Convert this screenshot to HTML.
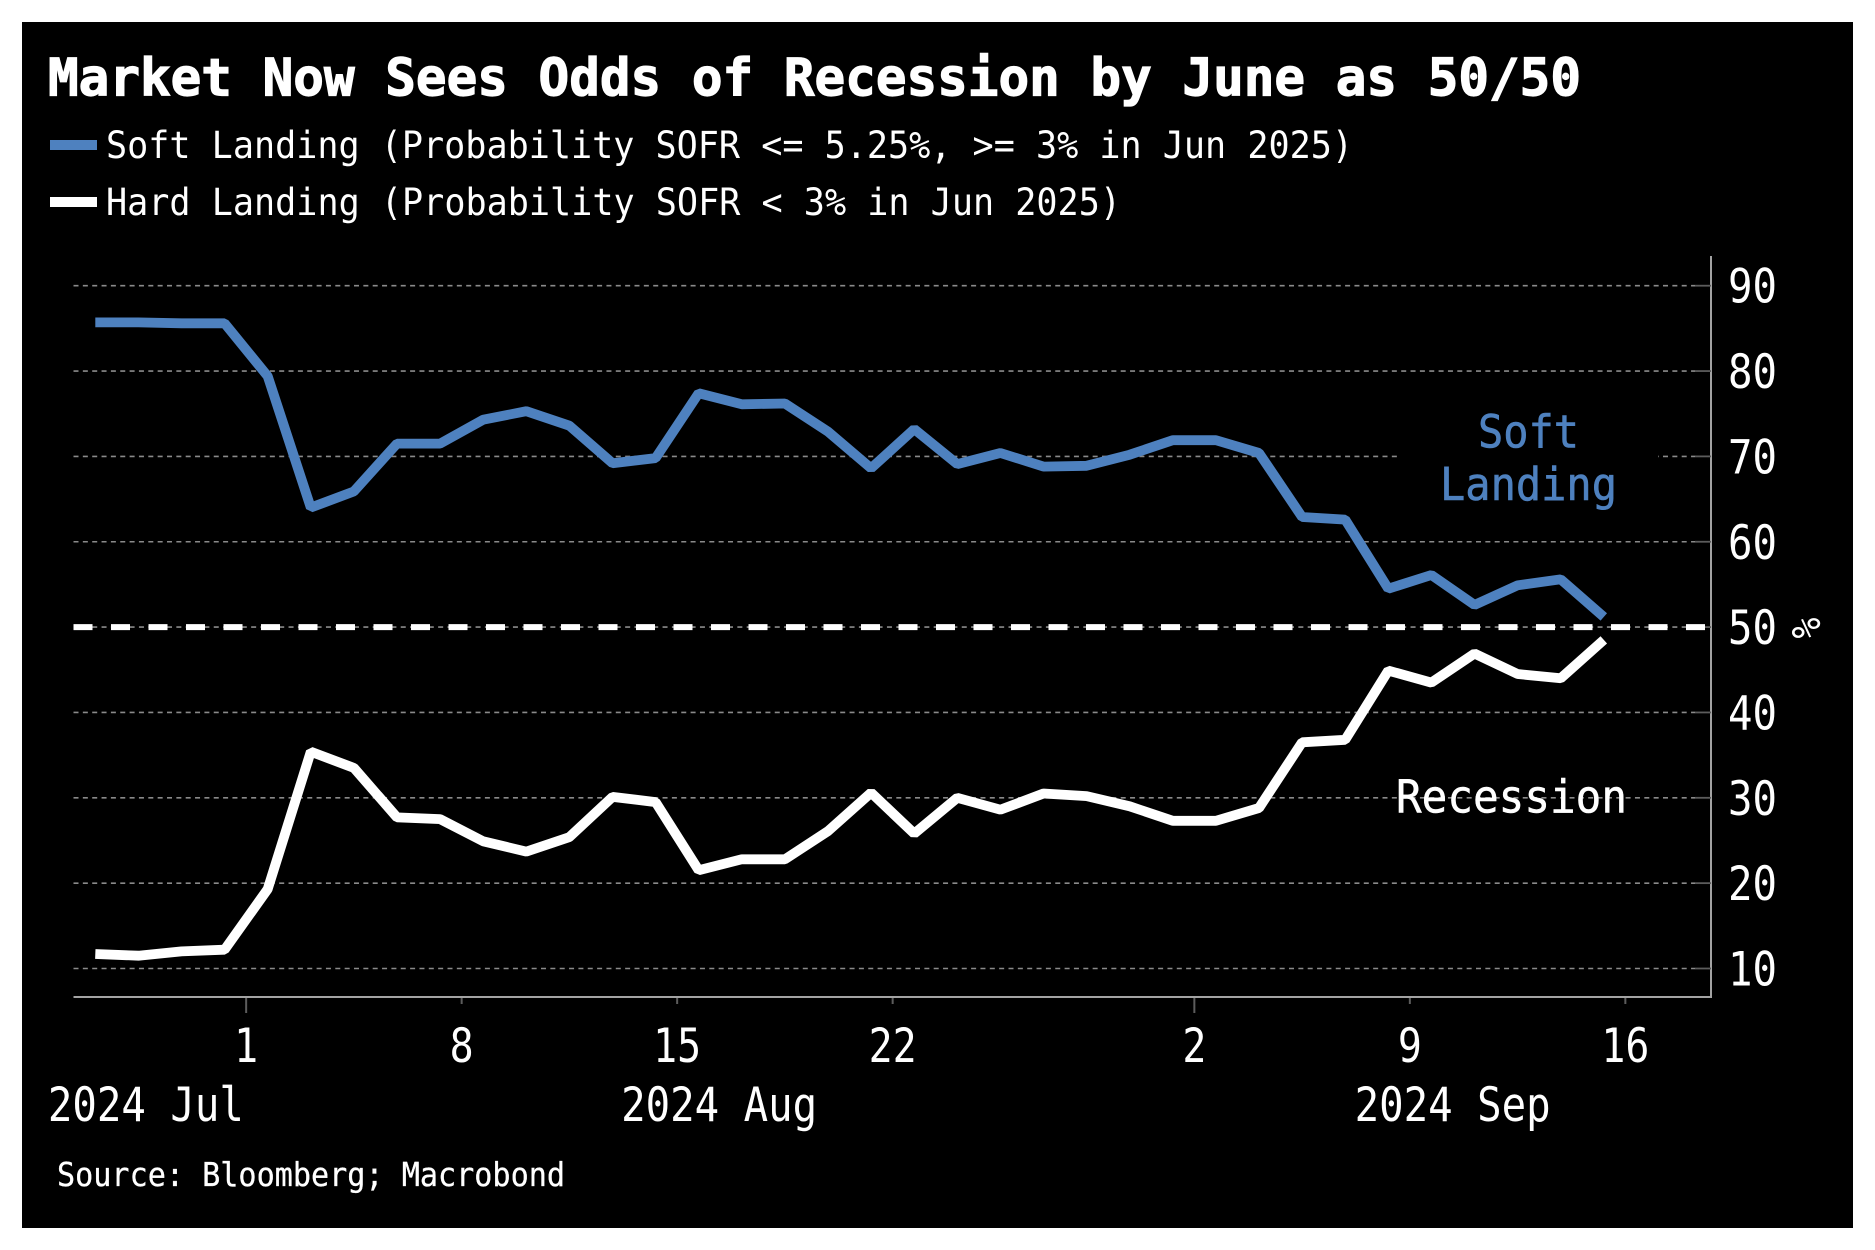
<!DOCTYPE html>
<html lang="en">
<head>
<meta charset="utf-8">
<title>Market Now Sees Odds of Recession by June as 50/50</title>
<style>
html,body{margin:0;padding:0;background:#fff;width:1875px;height:1250px;overflow:hidden}
svg{display:block}
text{font-family:"DejaVu Sans Mono","Liberation Mono",monospace;fill:#fff}
</style>
</head>
<body>
<svg id="chart" xmlns="http://www.w3.org/2000/svg" width="1875" height="1250" viewBox="0 0 1875 1250">
  <rect x="22" y="22" width="1831" height="1206" fill="#000"/>
  <text x="48" y="95.5" font-size="52" font-weight="700" stroke="#fff" stroke-width="1.2" textLength="1533" lengthAdjust="spacingAndGlyphs">Market Now Sees Odds of Recession by June as 50/50</text>

  <g>
    <rect x="50" y="140" width="47" height="10" fill="#4e81bf"/>
    <text x="106" y="158" font-size="37" textLength="1247" lengthAdjust="spacingAndGlyphs">Soft Landing (Probability SOFR &lt;= 5.25%, &gt;= 3% in Jun 2025)</text>
    <rect x="50" y="197" width="47" height="10" fill="#fff"/>
    <text x="106" y="215" font-size="37" textLength="1015" lengthAdjust="spacingAndGlyphs">Hard Landing (Probability SOFR &lt; 3% in Jun 2025)</text>
  </g>

  <g id="grid"></g>
  <rect x="1400" y="440" width="258" height="40" fill="#000"/>
  <g id="axes">
    <line x1="73.5" y1="997" x2="1712" y2="997" stroke="#a3a3a3" stroke-width="2"/>
    <line x1="1711" y1="256" x2="1711" y2="998" stroke="#a3a3a3" stroke-width="2"/>
  </g>
  <g id="x-ticks"></g>
  <g id="y-ticks"></g>
  <g id="months"></g>
  <g id="threshold"></g>
  <g id="series"></g>

  <text transform="translate(1792,628) rotate(90)" font-size="40" text-anchor="middle" textLength="21" lengthAdjust="spacingAndGlyphs">%</text>
  <text x="1478" y="447.5" font-size="45" stroke="#4e81bf" stroke-width="0.6" style="fill:#4e81bf" textLength="101" lengthAdjust="spacingAndGlyphs">Soft</text>
  <text x="1440" y="500" font-size="45" stroke="#4e81bf" stroke-width="0.6" style="fill:#4e81bf" textLength="177" lengthAdjust="spacingAndGlyphs">Landing</text>
  <text x="1396" y="812.5" font-size="45" stroke="#fff" stroke-width="0.5" textLength="231" lengthAdjust="spacingAndGlyphs">Recession</text>
  <text x="57" y="1186" font-size="33" stroke="#fff" stroke-width="0.3" textLength="508" lengthAdjust="spacingAndGlyphs">Source: Bloomberg; Macrobond</text>
</svg>
<script>
const softValues = [85.7,85.7,85.6,85.6,79.4,64.0,65.9,71.5,71.5,74.3,75.3,73.6,69.2,69.8,77.4,76.1,76.2,72.9,68.6,73.2,69.1,70.4,68.8,68.9,70.2,71.9,71.9,70.4,62.9,62.6,54.5,56.1,52.6,54.9,55.6,51.2];
const hardValues = [11.7,11.5,12.0,12.2,19.3,35.4,33.5,27.7,27.5,24.9,23.7,25.4,30.1,29.5,21.5,22.8,22.8,26.1,30.6,25.8,30.0,28.6,30.5,30.2,29.0,27.3,27.3,28.8,36.5,36.8,44.9,43.5,46.9,44.5,44.0,48.5];
const yTickValues = [10,20,30,40,50,60,70,80,90];
const thresholdValue = 50;
const xTickLabels = ["1","8","15","22","2","9","16"];
const xTickCategories = [3.5,8.5,13.5,18.5,25.5,30.5,35.5];
const xTickIsMonthStart = [true,false,false,false,true,false,false];
const monthLabels = ["2024 Jul","2024 Aug","2024 Sep"];
const monthLabelCategories = [-1.1,12.2,29.22];

const NS = "http://www.w3.org/2000/svg";
function xScale(i) { return 95.3 + i * 43.1; }
function yScale(v) { return 968.5 - (v - 10) * 8.535; }
function make(tag, parent, attrs, text) {
  const el = document.createElementNS(NS, tag);
  for (const k in attrs) el.setAttribute(k, attrs[k]);
  if (text !== undefined) el.textContent = text;
  document.getElementById(parent).appendChild(el);
  return el;
}
function linePoints(values) {
  return values.map(function (v, i) { return xScale(i).toFixed(1) + "," + yScale(v).toFixed(1); }).join(" ");
}

yTickValues.forEach(function (v) {
  const y = yScale(v);
  const grid = make("line", "grid", {x1: 73.5, y1: y, x2: 1695, y2: y, stroke: "#8a8a8a", "stroke-width": 1.6, "stroke-dasharray": "5 4.35"});
  
  
  const tick = make("line", "y-ticks", {x1: 1695, y1: y, x2: 1711, y2: y, stroke: "#5c5c5c", "stroke-width": 1.8});
  
  
  const label = make("text", "y-ticks", {x: 1728, y: y + 17, "font-size": 47, textLength: 49, lengthAdjust: "spacingAndGlyphs"}, String(v));
  
  
});

xTickLabels.forEach(function (text, k) {
  const x = xScale(xTickCategories[k]);
  const tick = make("line", "x-ticks", {x1: x, y1: 998, x2: x, y2: xTickIsMonthStart[k] ? 1013 : 1004, stroke: "#5c5c5c", "stroke-width": 2});
  
  
  const label = make("text", "x-ticks", {x: x, y: 1062, "font-size": 47, "text-anchor": "middle", textLength: text.length * 24, lengthAdjust: "spacingAndGlyphs"}, text);
  
  
});

monthLabels.forEach(function (text, k) {
  const label = make("text", "months", {x: xScale(monthLabelCategories[k]), y: 1121, "font-size": 47, textLength: 196, lengthAdjust: "spacingAndGlyphs"}, text);
  
  
});

const thresholdLine = make("line", "threshold", {x1: 73.5, y1: yScale(thresholdValue), x2: 1705, y2: yScale(thresholdValue), stroke: "#fff", "stroke-width": 6, "stroke-dasharray": "19 18.5"});



const softLine = make("polyline", "series", {points: linePoints(softValues), fill: "none", stroke: "#4e81bf", "stroke-width": 9.8, "stroke-linejoin": "bevel", "stroke-linecap": "butt"});



const hardLine = make("polyline", "series", {points: linePoints(hardValues), fill: "none", stroke: "#fff", "stroke-width": 9.8, "stroke-linejoin": "bevel", "stroke-linecap": "butt"});


</script>
</body>
</html>
